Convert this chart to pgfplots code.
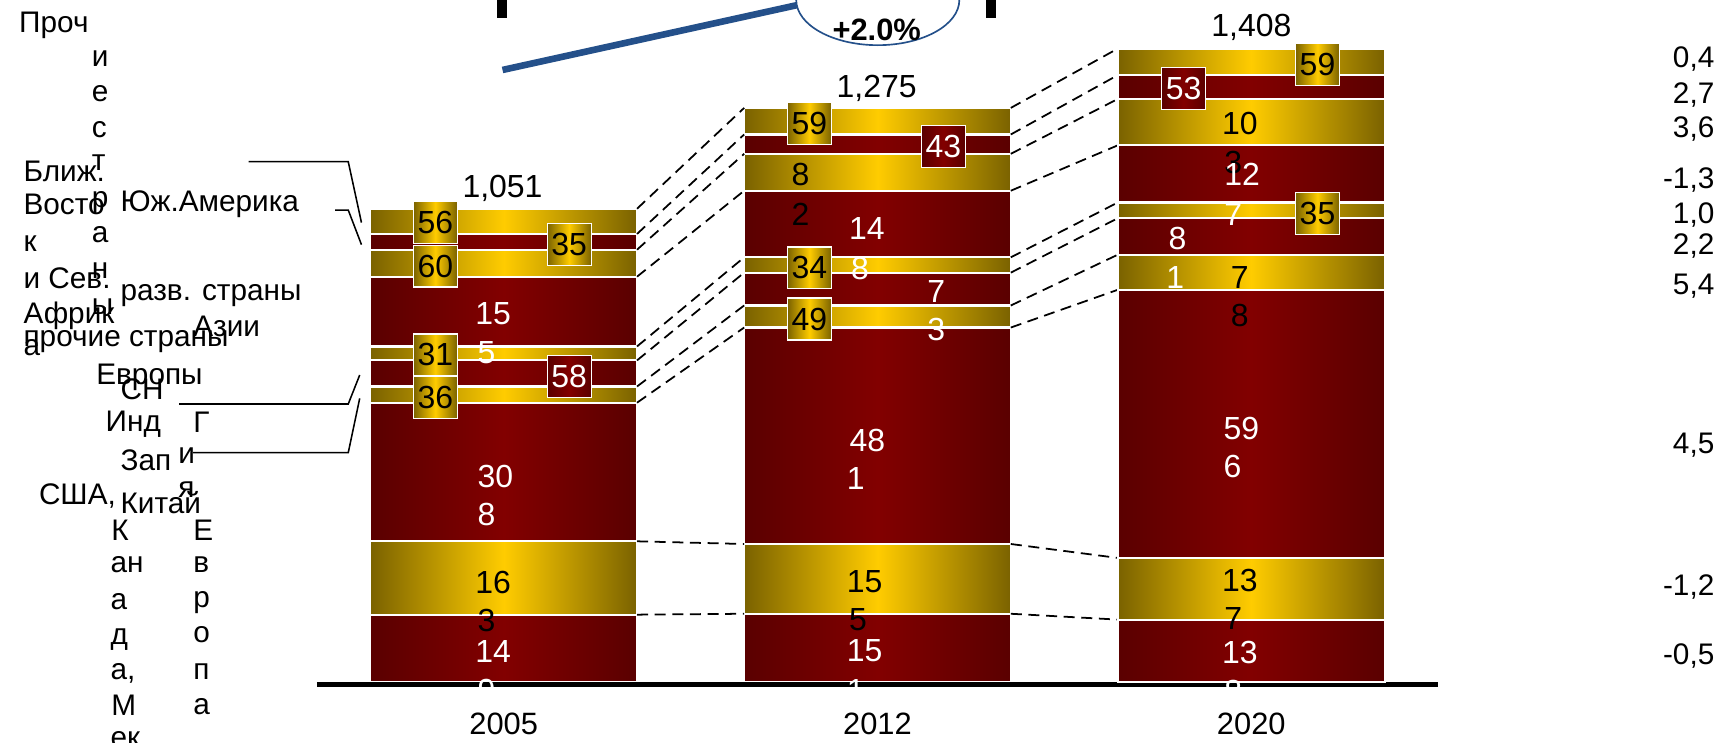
\documentclass[border=0pt]{standalone}
\usepackage{fontspec}
\setmainfont{Liberation Sans}
\usepackage{pgfplots}
\pgfplotsset{compat=1.18}

\definecolor{rdk}{HTML}{5A0000}
\definecolor{rbr}{HTML}{820000}
\definecolor{gdk}{HTML}{7A6200}
\definecolor{gbr}{HTML}{FFCC00}
\definecolor{blu}{HTML}{24508A}

\newcommand\fl{\fontsize{14.5}{17}\selectfont}
\newcommand\fs{\fontsize{13.5}{16}\selectfont}

\tikzset{
  rseg/.style={draw=white, line width=1pt, left color=rdk, right color=rdk, middle color=rbr},
  gseg/.style={draw=white, line width=1pt, left color=gdk, right color=gdk, middle color=gbr},
  v/.style={font=\fl, inner sep=0pt, anchor=base west},
  w/.style={v, text=white},
  t/.style={font=\fs, inner sep=0pt, anchor=base west},
  bx/.style={draw=white, line width=0.6pt, minimum width=20pt, minimum height=19pt, inner sep=0pt, font=\fl},
  gb/.style={bx, left color=gdk, right color=gdk, middle color=gbr},
  rb/.style={bx, left color=rdk, right color=rdk, middle color=rbr, text=white},
  dl/.style={dash pattern=on 5pt off 3pt, line width=0.8pt},
  lead/.style={line width=0.7pt},
  px/.style={x=0.5pt, y=-0.5pt, shift={(O)}, shift={(-287.5,-618.6)}},
}

% one axis per year, so that every bar gets its own left-right shading
\pgfplotsset{
  common/.style={
    width=508.75pt, height=287.5pt, scale only axis,
    xmin=-0.5, xmax=2.5, ymin=-5.9, ymax=1402.1,
    ybar stacked, bar width=0.7135, clip=false,
  },
}

\begin{document}
\begin{tikzpicture}
% 2005
\begin{axis}[common, hide axis]
\addplot[rseg] coordinates {(0,149)}; % США, Канада, Мексика
\addplot[gseg] coordinates {(0,163)}; % Западная Европа
\addplot[rseg] coordinates {(0,308)}; % Китай
\addplot[gseg] coordinates {(0,36)};  % Индия
\addplot[rseg] coordinates {(0,58)};  % СНГ
\addplot[gseg] coordinates {(0,31)};  % прочие страны Европы
\addplot[rseg] coordinates {(0,155)}; % разв. страны Азии
\addplot[gseg] coordinates {(0,60)};  % Юж. Америка
\addplot[rseg] coordinates {(0,35)};  % Ближ. Восток и Сев. Африка
\addplot[gseg] coordinates {(0,56)};  % прочие страны
\end{axis}
% 2012
\begin{axis}[common, hide axis]
\addplot[rseg] coordinates {(1,151)};
\addplot[gseg] coordinates {(1,155)};
\addplot[rseg] coordinates {(1,481)};
\addplot[gseg] coordinates {(1,49)};
\addplot[rseg] coordinates {(1,73)};
\addplot[gseg] coordinates {(1,34)};
\addplot[rseg] coordinates {(1,148)};
\addplot[gseg] coordinates {(1,82)};
\addplot[rseg] coordinates {(1,43)};
\addplot[gseg] coordinates {(1,59)};
\end{axis}
% 2020
\begin{axis}[common,
  axis x line*=bottom, axis y line=none,
  x axis line style={line width=2.4pt},
  xtick={0,1,2}, xticklabels={2005,2012,2020},
  xtick style={draw=none}, ytick=\empty,
  xticklabel style={font=\fontsize{14}{16}\selectfont, anchor=base, yshift=-22.8pt},
]
\addplot[rseg] coordinates {(2,138)};
\addplot[gseg] coordinates {(2,137)};
\addplot[rseg] coordinates {(2,596)};
\addplot[gseg] coordinates {(2,78)};
\addplot[rseg] coordinates {(2,81)};
\addplot[gseg] coordinates {(2,35)};
\addplot[rseg] coordinates {(2,127)};
\addplot[gseg] coordinates {(2,103)};
\addplot[rseg] coordinates {(2,53)};
\addplot[gseg] coordinates {(2,59)};

% dashed connectors between segment tops
\draw[dl] (axis cs:0.3567,149) -- (axis cs:0.6433,151);
\draw[dl] (axis cs:0.3567,312) -- (axis cs:0.6433,306);
\draw[dl] (axis cs:0.3567,620) -- (axis cs:0.6433,787);
\draw[dl] (axis cs:0.3567,656) -- (axis cs:0.6433,836);
\draw[dl] (axis cs:0.3567,714) -- (axis cs:0.6433,909);
\draw[dl] (axis cs:0.3567,745) -- (axis cs:0.6433,943);
\draw[dl] (axis cs:0.3567,900) -- (axis cs:0.6433,1091);
\draw[dl] (axis cs:0.3567,960) -- (axis cs:0.6433,1173);
\draw[dl] (axis cs:0.3567,995) -- (axis cs:0.6433,1216);
\draw[dl] (axis cs:0.3567,1051) -- (axis cs:0.6433,1275);
\draw[dl] (axis cs:1.3567,151) -- (axis cs:1.6433,138);
\draw[dl] (axis cs:1.3567,306) -- (axis cs:1.6433,275);
\draw[dl] (axis cs:1.3567,787) -- (axis cs:1.6433,871);
\draw[dl] (axis cs:1.3567,836) -- (axis cs:1.6433,949);
\draw[dl] (axis cs:1.3567,909) -- (axis cs:1.6433,1030);
\draw[dl] (axis cs:1.3567,943) -- (axis cs:1.6433,1065);
\draw[dl] (axis cs:1.3567,1091) -- (axis cs:1.6433,1192);
\draw[dl] (axis cs:1.3567,1173) -- (axis cs:1.6433,1295);
\draw[dl] (axis cs:1.3567,1216) -- (axis cs:1.6433,1348);
\draw[dl] (axis cs:1.3567,1275) -- (axis cs:1.6433,1407);
\coordinate (O) at (axis cs:-0.5,0);
\end{axis}

\begin{scope}[px]
% top: fragment of growth arrow
\fill (451,-5) rectangle (460,16.6);
\fill (894.8,-5) rectangle (903.5,16.6);
\draw[blu, line width=3pt] (456,63.5) -- (724,4.5);
\draw[blu, line width=0.75pt, fill=white] (796.5,0) ellipse [x radius=74, y radius=41];
\node[font=\bfseries\fontsize{14}{16}\selectfont, inner sep=0pt, anchor=base] at (795.5,36.5) {+2.0\%};

% totals
\node[v, anchor=base] at (456,179.4) {1,051};
\node[v, anchor=base] at (795.5,88.4) {1,275};
\node[v, anchor=base] at (1135.5,33.4) {1,408};

% leader lines
\draw[lead] (225.7,146.7) -- (316,146.7) -- (328,202);
\draw[lead] (304,190.6) -- (316,190.6) -- (328,222);
\draw[lead] (162.5,366.6) -- (316,366.6) -- (326.4,340.3);
\draw[lead] (175.3,410.8) -- (316,410.8) -- (326.4,361.5);

% segment labels 2005
\node[w] at (431,294.4) {15};
\node[w] at (433,329.4) {5};
\node[w] at (433,442.4) {30};
\node[w] at (433,476.4) {8};
\node[v] at (431,538.4) {16};
\node[v] at (433,573.4) {3};
\node[w] at (431,601.4) {14};
\node[w] at (433,636.4) {9};
\node[gb] at (395,202) {56};
\node[gb] at (395,241.5) {60};
\node[gb] at (516.5,222) {35};
\node[gb] at (395,322) {31};
\node[rb] at (516.5,341.5) {58};
\node[gb] at (395,360.5) {36};

% segment labels 2012
\node[v] at (718,168.4) {8};
\node[v] at (718,204.4) {2};
\node[w] at (770,217.4) {14};
\node[w] at (772,253.4) {8};
\node[w] at (841,274.4) {7};
\node[w] at (841,309.4) {3};
\node[w] at (770.5,409.7) {48};
\node[w] at (768,444.4) {1};
\node[v] at (768,537.4) {15};
\node[v] at (770,572) {5};
\node[w] at (768,600.6) {15};
\node[w] at (768,636.4) {1};
\node[gb] at (734.5,112) {59};
\node[rb] at (856,133) {43};
\node[gb] at (734.5,243) {34};
\node[gb] at (734.5,289.5) {49};

% segment labels 2020
\node[v] at (1108.5,122.4) {10};
\node[v] at (1110.5,157.4) {3};
\node[w] at (1110.5,168.4) {12};
\node[w] at (1110.5,204.4) {7};
\node[w] at (1060,226.4) {8};
\node[w] at (1058,261.4) {1};
\node[v] at (1116.5,261.4) {7};
\node[v] at (1116.5,296.4) {8};
\node[w] at (1110,398.7) {59};
\node[w] at (1110,433) {6};
\node[v] at (1108.5,537) {13};
\node[v] at (1110.5,571.4) {7};
\node[w] at (1108.5,602.4) {13};
\node[w] at (1110.5,637.4) {8};
\node[rb] at (1074,80.5) {53};
\node[gb] at (1195.5,58.5) {59};
\node[gb] at (1195.5,193.5) {35};

% growth rates, right column
\node[t, anchor=base east] at (1556,61.3) {0,4};
\node[t, anchor=base east] at (1556,93.5) {2,7};
\node[t, anchor=base east] at (1556,124.9) {3,6};
\node[t, anchor=base east] at (1556,170.9) {-1,3};
\node[t, anchor=base east] at (1556,203.1) {1,0};
\node[t, anchor=base east] at (1556,231) {2,2};
\node[t, anchor=base east] at (1556,267.6) {5,4};
\node[t, anchor=base east] at (1556,411.5) {4,5};
\node[t, anchor=base east] at (1556,540.5) {-1,2};
\node[t, anchor=base east] at (1556,602.8) {-0,5};

% region names (wrapped as in the source)
\node[t] at (17,29.4) {Проч};
\node[t] at (83,60) {и};
\node[t] at (83,92) {е};
\node[t] at (83,125) {с};
\node[t] at (83,155) {т};
\node[t] at (83,188) {р};
\node[t] at (83,220) {а};
\node[t] at (83,253) {н};
\node[t] at (83,285) {ы};
\node[t] at (21,164.7) {Ближ.};
\node[t] at (21,194.2) {Восто};
\node[t] at (21,228) {к};
\node[t] at (21,262.2) {и Сев.};
\node[t] at (21,293.7) {Африк};
\node[t] at (21,323) {а};
\node[t] at (109,191.7) {Юж.Америка};
\node[t] at (109,273) {разв. страны};
\node[t] at (175,305.7) {Азии};
\node[t] at (21,314) {прочие страны};
\node[t] at (87,349.1) {Европы};
\node[t] at (109,362.7) {СН};
\node[t] at (95.5,391.4) {Инд};
\node[t] at (175,392.4) {Г};
\node[t] at (109,426.5) {Зап};
\node[t] at (161.5,420.5) {и};
\node[t] at (161.5,451.7) {я};
\node[t] at (35,458) {США,};
\node[t] at (109,465.7) {Китай};
\node[t] at (100.7,490.7) {К};
\node[t] at (100,519.7) {ан};
\node[t] at (100,553) {а};
\node[t] at (100,584.8) {д};
\node[t] at (100,616.5) {а,};
\node[t] at (100.7,649.5) {М};
\node[t] at (100,678.5) {ек};
\node[t] at (175,490.7) {Е};
\node[t] at (175,519.7) {в};
\node[t] at (175,551.5) {р};
\node[t] at (175,583) {о};
\node[t] at (175,616.5) {п};
\node[t] at (175,648) {а};
\end{scope}

\pgfresetboundingbox
\path[px] (0,0) rectangle (1568,674);
\end{tikzpicture}
\end{document}
